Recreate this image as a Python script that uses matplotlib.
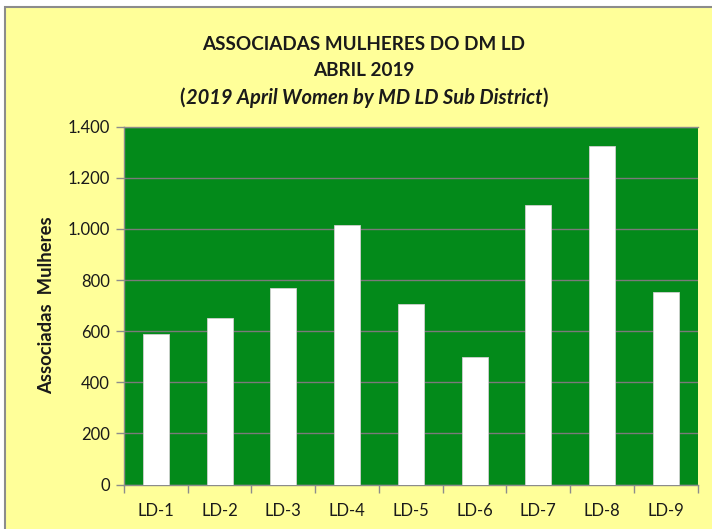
import numpy as np
import matplotlib.pyplot as plt
from matplotlib.patches import Rectangle
from matplotlib.ticker import FuncFormatter, FixedLocator

plt.rcParams['font.family'] = ['Lato', 'DejaVu Sans']

categories = ['LD-1', 'LD-2', 'LD-3', 'LD-4', 'LD-5', 'LD-6', 'LD-7', 'LD-8', 'LD-9']
women = [587, 653, 770, 1014, 706, 499, 1092, 1326, 755]
y_ticks = [0, 200, 400, 600, 800, 1000, 1200, 1400]

W, H = 712, 529
fig = plt.figure(figsize=(W / 100, H / 100), dpi=100, facecolor='white')

# yellow chart area with gray border on top/left
fig.patches.append(Rectangle((5 / W, -0.05), 1.1, 1 - 7 / H + 0.05, transform=fig.transFigure,
                             facecolor='#FFFF99', edgecolor='#8C8C8C', linewidth=1.5, zorder=-10))

ax = fig.add_axes([124 / W, (H - 484.5) / H, (697.7 - 124) / W, (484.5 - 126.7) / H])
ax.set_facecolor('#038A1A')

x = np.arange(len(categories))
ax.bar(x, women, width=0.41, color='white', edgecolor='#D0D0D0', linewidth=0.6, zorder=3)

ax.set_xlim(-0.5, len(categories) - 0.5)
ax.set_ylim(0, 1400)
ax.set_yticks(y_ticks)
ax.yaxis.set_major_formatter(FuncFormatter(lambda v, p: '{:,.0f}'.format(v).replace(',', '.')))
ax.grid(axis='y', color='#7A7A7A', linewidth=1.0, zorder=1)

ax.set_xticks(x)
ax.set_xticklabels(categories)
ax.xaxis.set_minor_locator(FixedLocator(np.arange(-0.5, len(categories), 1)))
ax.tick_params(axis='x', which='major', length=0, pad=13, labelsize=12, labelcolor='#1a1a1a')
ax.tick_params(axis='x', which='minor', length=6, color='#8C8C8C', width=1)
ax.tick_params(axis='y', length=6, color='#8C8C8C', width=1, labelsize=12, labelcolor='#1a1a1a', pad=4)

for s in ax.spines.values():
    s.set_color('#8C8C8C')
    s.set_linewidth(1)
ax.spines['right'].set_visible(False)

ax.set_ylabel('Associadas  Mulheres', fontsize=13.3, fontweight='bold', color='#1a1a1a', labelpad=9)

cx = 364 / W
fig.text(cx, 1 - 45 / H, 'ASSOCIADAS MULHERES DO DM LD', ha='center', va='center',
         fontsize=13.6, fontweight='bold', color='#1a1a1a')
fig.text(cx, 1 - 71 / H, 'ABRIL 2019', ha='center', va='center',
         fontsize=13.6, fontweight='bold', color='#1a1a1a')

# third line: bold parens, bold italic content
renderer = fig.canvas.get_renderer()
mid = fig.text(cx, 1 - 98 / H, '2019 April Women by MD LD Sub District', ha='center', va='center',
               fontsize=14.5, fontweight='bold', fontstyle='italic', color='#1a1a1a')
bb = mid.get_window_extent(renderer).transformed(fig.transFigure.inverted())
fig.text(bb.x0 - 0.001, 1 - 98 / H, '(', ha='right', va='center', fontsize=14.5, fontweight='bold', color='#1a1a1a')
fig.text(bb.x1 + 0.0005, 1 - 98 / H, ')', ha='left', va='center', fontsize=14.5, fontweight='bold', color='#1a1a1a')

fig.savefig('out.png', dpi=100, facecolor=fig.get_facecolor())
